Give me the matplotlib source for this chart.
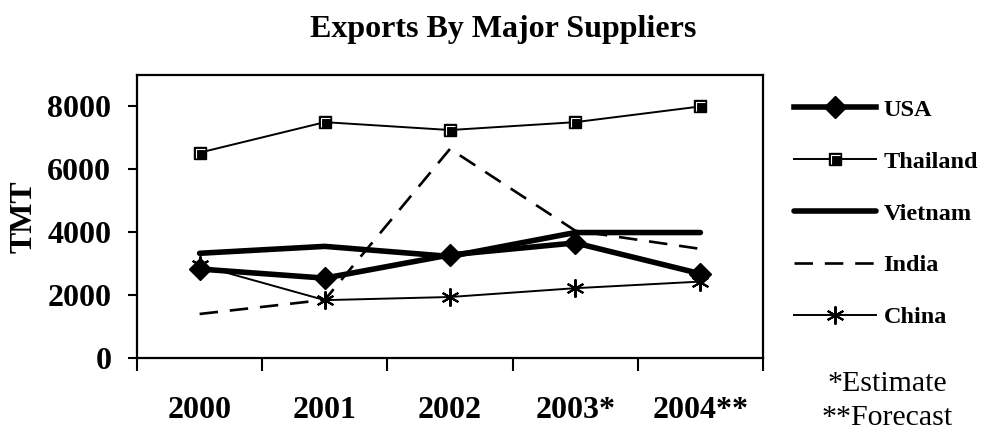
import matplotlib
matplotlib.use("Agg")
import matplotlib.pyplot as plt
from matplotlib.path import Path
import numpy as np

plt.rcParams['font.family'] = ['Liberation Serif', 'DejaVu Serif']

years = ['2000', '2001', '2002', '2003*', '2004**']
usa = [2830, 2540, 3280, 3660, 2680]
thailand = [6530, 7500, 7250, 7500, 8000]
vietnam = [3330, 3550, 3230, 3990, 3990]
india = [1400, 1850, 6650, 4050, 3470]
china = [2950, 1840, 1940, 2220, 2430]

fig = plt.figure(figsize=(9.88, 4.34), dpi=100)
ax = fig.add_axes([137/988, 1-358/434, (763-137)/988, (358-75)/434])

# white inner corner on the square marker (Excel style)
corner = Path([(-0.6, -0.75), (-0.6, 0.6), (0.75, 0.6)],
              [Path.MOVETO, Path.LINETO, Path.LINETO])

x = np.arange(len(years))
l_usa, = ax.plot(x, usa, '-', color='black', lw=4, marker='D', ms=11, label='USA')
l_th, = ax.plot(x, thailand, '-', color='black', lw=1.4, marker='s', ms=9,
                mfc='black', mec='black', label='Thailand')
l_thc, = ax.plot(x, thailand, ls='none', marker=corner, ms=6.5, mfc='none',
                 mec='white', mew=0.8)
l_vn, = ax.plot(x, vietnam, '-', color='black', lw=4, solid_capstyle='round', label='Vietnam')
l_in, = ax.plot(x, india, '--', color='black', lw=1.9, dashes=(7, 4.5), label='India')
l_cn, = ax.plot(x, china, '-', color='black', lw=1.4, marker=(6, 2, 0), ms=13, mew=1.5, label='China')

ax.set_xlim(-0.5, 4.5)
ax.set_ylim(0, 9000)
ax.set_yticks([0, 2000, 4000, 6000, 8000])
ax.set_xticks(np.arange(-0.5, 5, 1))
ax.set_xticklabels([])
ax.set_xticks(x, minor=True)
ax.set_xticklabels(years, minor=True, fontsize=23, fontweight='bold')
ax.tick_params(axis='x', which='major', length=9, width=1.5, direction='out')
ax.tick_params(axis='x', which='minor', length=0, pad=27)
ax.tick_params(axis='y', length=6.5, width=1.5, pad=12, labelsize=23)
for lbl in ax.get_yticklabels():
    lbl.set_fontweight('bold')
for s in ax.spines.values():
    s.set_linewidth(1.6)

ax.set_ylabel('TMT', fontsize=23, fontweight='bold', labelpad=6)

fig.text(503/988, 1-30/434, 'Exports By Major Suppliers', ha='center', va='center',
         fontsize=23, fontweight='bold')

handles = [l_usa, (l_th, l_thc), l_vn, l_in, l_cn]
labels = ['USA', 'Thailand', 'Vietnam', 'India', 'China']
leg = ax.legend(handles, labels, loc='upper left', bbox_to_anchor=(784/988, 1-89/434),
                bbox_transform=fig.transFigure, frameon=False,
                prop={'size': 17.5, 'weight': 'bold'}, handlelength=3.4,
                handletextpad=0.3, labelspacing=1.23, borderaxespad=0)

fig.text(887/988, 1-384/434, '*Estimate', ha='center', va='center', fontsize=21.5)
fig.text(887/988, 1-418/434, '**Forecast', ha='center', va='center', fontsize=21.5)

fig.savefig('out.png', dpi=100)
